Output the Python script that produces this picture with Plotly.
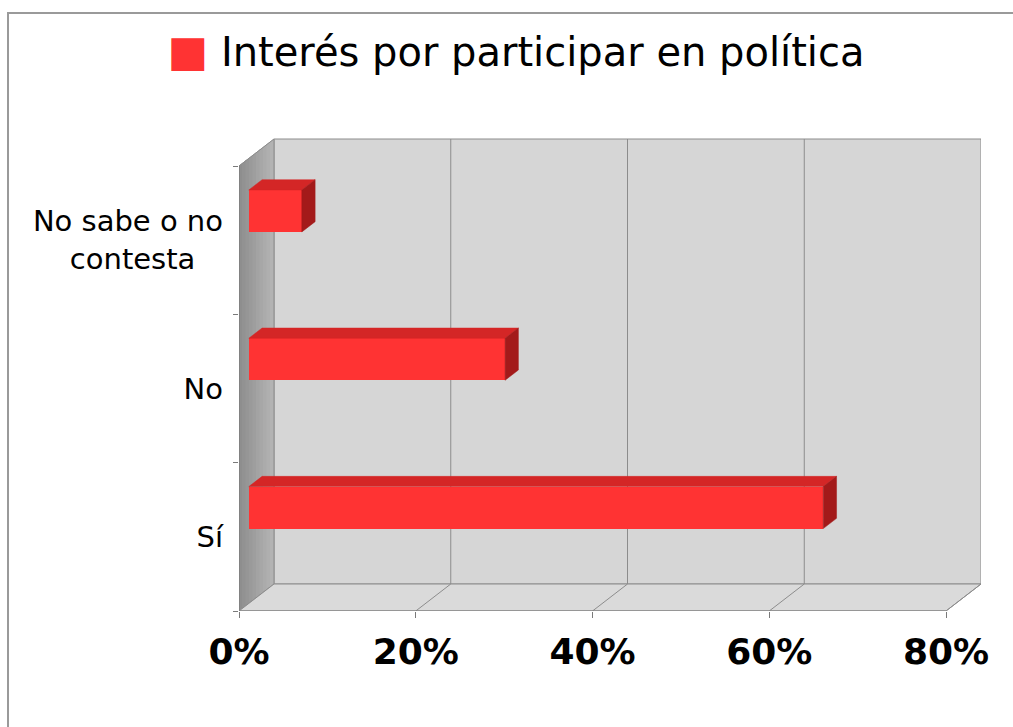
import plotly.graph_objects as go

# Survey answers and their shares (%)
categories = ["Sí", "No", "No sabe o no contesta"]
tick_labels = ["Sí", "No", "No sabe o no<br>contesta&nbsp;&nbsp;&nbsp;"]
values = [65, 29, 6]
x_ticks = [0, 20, 40, 60, 80]
x_tick_labels = ["0%", "20%", "40%", "60%", "80%"]
series_name = "Interés por participar en política"

# Oblique 3D projection in axis units: depth vector of the chart box
DX, DY = 3.96, 0.182
X_MAX = 80
Y_LO, Y_HI = -0.5, 2.5

# Bar box: position within the depth and thickness
BAR_DEPTH0 = 0.28          # front face sits this far into the box
BAR_DEPTH = 0.38           # how deep each bar is (fraction of the box depth)
BAR_LIFT = 0.197           # front-face centre above the category value
BAR_THICK = 0.283

bar_x0 = BAR_DEPTH0 * DX
ddx, ddy = BAR_DEPTH * DX, BAR_DEPTH * DY
ypos = [i + BAR_LIFT for i in range(len(categories))]

FRONT = "#ff3333"
TOP = "#d42626"
SIDE = "#a31a1a"
WALL = "#d6d6d6"
FLOOR = "#dadada"
EDGE = "#8c8c8c"

fig = go.Figure()

# Front faces of the bars
fig.add_trace(go.Bar(
    y=ypos, x=values, base=bar_x0, orientation="h", width=BAR_THICK,
    marker=dict(color=FRONT, line=dict(width=0)),
    name=series_name, showlegend=False,
    hovertext=categories, hoverinfo="text+x",
))

# Top and side faces derived from the same values
top_x, top_y, side_x, side_y = [], [], [], []
for v, yc in zip(values, ypos):
    yt = yc + BAR_THICK / 2
    yb = yc - BAR_THICK / 2
    x1 = bar_x0 + v
    top_x += [bar_x0, x1, x1 + ddx, bar_x0 + ddx, bar_x0, None]
    top_y += [yt, yt, yt + ddy, yt + ddy, yt, None]
    side_x += [x1, x1 + ddx, x1 + ddx, x1, x1, None]
    side_y += [yb, yb + ddy, yt + ddy, yt, yb, None]

fig.add_trace(go.Scatter(x=top_x, y=top_y, mode="lines", fill="toself",
                         fillcolor=TOP, line=dict(color=TOP, width=0.5),
                         hoverinfo="skip", showlegend=False))
fig.add_trace(go.Scatter(x=side_x, y=side_y, mode="lines", fill="toself",
                         fillcolor=SIDE, line=dict(color=SIDE, width=0.5),
                         hoverinfo="skip", showlegend=False))

shapes = []
# Back wall
shapes.append(dict(type="rect", xref="x", yref="y", layer="below",
                   x0=DX, x1=X_MAX + DX, y0=Y_LO + DY, y1=Y_HI + DY,
                   fillcolor=WALL, line=dict(color=EDGE, width=1)))
# Left wall, shaded in vertical strips from dark (front) to light (back)
N_STRIPS = 10
for k in range(N_STRIPS):
    a, b = k / N_STRIPS, (k + 1) / N_STRIPS
    g = int(0x8c + (0xb6 - 0x8c) * (k + 0.5) / N_STRIPS)
    col = f"rgb({g},{g},{g})"
    shapes.append(dict(
        type="path", xref="x", yref="y", layer="below",
        path=(f"M{a * DX},{Y_LO + a * DY} L{b * DX},{Y_LO + b * DY} "
              f"L{b * DX},{Y_HI + b * DY} L{a * DX},{Y_HI + a * DY} Z"),
        fillcolor=col, line=dict(color=col, width=1)))
shapes.append(dict(type="path", xref="x", yref="y", layer="below",
                   path=f"M0,{Y_LO} L0,{Y_HI} L{DX},{Y_HI + DY} L{DX},{Y_LO + DY} Z",
                   line=dict(color=EDGE, width=1)))
# Floor
shapes.append(dict(type="path", xref="x", yref="y", layer="below",
                   path=f"M0,{Y_LO} L{X_MAX},{Y_LO} L{X_MAX + DX},{Y_LO + DY} "
                        f"L{DX},{Y_LO + DY} Z",
                   fillcolor=FLOOR, line=dict(color=EDGE, width=1)))
# Gridlines on the back wall and their continuation across the floor
for v in x_ticks[1:-1]:
    shapes.append(dict(type="line", xref="x", yref="y", layer="below",
                       x0=v + DX, x1=v + DX, y0=Y_LO + DY, y1=Y_HI + DY,
                       line=dict(color=EDGE, width=1)))
for v in x_ticks[1:]:
    shapes.append(dict(type="line", xref="x", yref="y", layer="below",
                       x0=v, x1=v + DX, y0=Y_LO, y1=Y_LO + DY,
                       line=dict(color=EDGE, width=1)))
# Front edges of the box (value axis and category axis)
shapes.append(dict(type="line", xref="x", yref="y", layer="below",
                   x0=0, x1=X_MAX, y0=Y_LO, y1=Y_LO,
                   line=dict(color="#7a7a7a", width=1.2)))
shapes.append(dict(type="line", xref="x", yref="y", layer="below",
                   x0=0, x1=0, y0=Y_LO, y1=Y_HI,
                   line=dict(color="#7a7a7a", width=1.2)))
# Outer frame of the chart area
shapes.append(dict(type="path", xref="paper", yref="paper",
                   path="M-0.3113,-0.4 L-0.3113,1.2643 L1.1,1.2643",
                   line=dict(color="#9a9a9a", width=2)))

W, H = 1013, 727
L, R, T, B = 239, 32, 138, 116
px_per_x = 707 / X_MAX
px_per_y = (611 - 166) / (Y_HI - Y_LO)

fig.update_layout(
    width=W, height=H,
    margin=dict(l=L, r=R, t=T, b=B, pad=0),
    paper_bgcolor="white", plot_bgcolor="rgba(0,0,0,0)",
    shapes=shapes, showlegend=False, bargap=0,
    font=dict(family="DejaVu Sans", color="black"),
    title=dict(
        text=f'<span style="color:{FRONT};font-size:43px">■</span> {series_name}',
        x=516 / W, xanchor="center", xref="container",
        y=1 - 52 / H, yanchor="middle", yref="container",
        font=dict(family="DejaVu Sans", size=40, color="black"),
    ),
    xaxis=dict(
        range=[0, (W - L - R) / px_per_x],
        tickmode="array", tickvals=x_ticks, ticktext=x_tick_labels,
        ticks="outside", ticklen=6, tickcolor="#7a7a7a",
        tickfont=dict(family="DejaVu Sans", size=36, weight="bold", color="black"),
        ticklabelstandoff=3,
        showgrid=False, zeroline=False, showline=False, fixedrange=True,
    ),
    yaxis=dict(
        range=[Y_LO, Y_LO + (H - T - B) / px_per_y],
        tickmode="array", tickvals=list(range(len(categories))),
        ticktext=tick_labels, ticks="",
        minor=dict(tickmode="array", tickvals=[-0.5, 0.5, 1.5, 2.5],
                   ticks="outside", ticklen=5, tickcolor="#7a7a7a"),
        tickfont=dict(family="DejaVu Sans", size=29, color="black"),
        ticklabelstandoff=15,
        showgrid=False, zeroline=False, showline=False, fixedrange=True,
    ),
)

fig.write_html("out.html")
